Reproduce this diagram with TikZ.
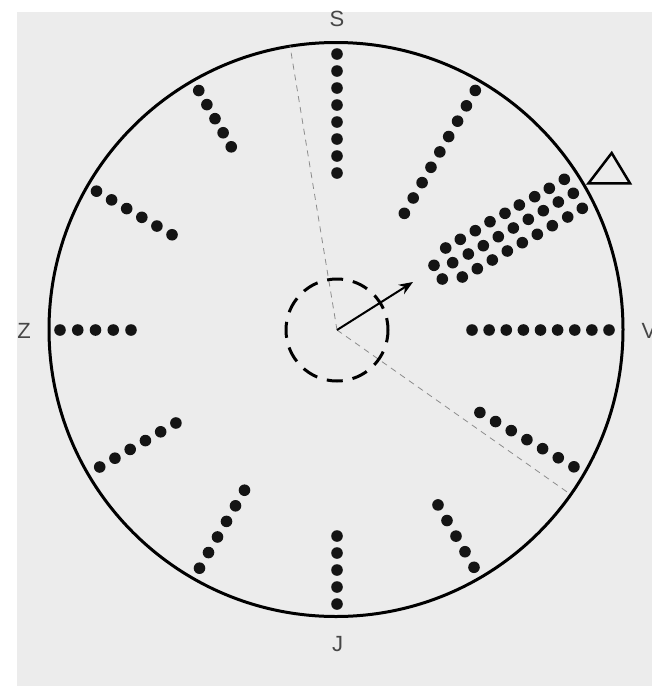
\documentclass[tikz,border=0pt]{standalone}
\usepackage{fontspec}
\setmainfont{Liberation Sans}
\usetikzlibrary{arrows.meta}
\definecolor{bg}{RGB}{236,236,236}
\definecolor{lbl}{RGB}{70,70,70}
\definecolor{dotc}{RGB}{20,20,20}
\begin{document}
\begin{tikzpicture}[x=1pt,y=-1pt,
  dot/.style={fill=dotc},
  lab/.style={font=\fontsize{22}{22}\selectfont, text=lbl, inner sep=0pt},
  thindash/.style={draw=black!45, line width=0.8pt, dash pattern=on 6pt off 5pt},
]
\useasboundingbox (0,0) rectangle (652,686);
\fill[white] (0,0) rectangle (652,686);
\fill[bg] (17,12) rectangle (652,686);
\coordinate (O) at (337,330);
\coordinate (C) at (336,329.5);
\coordinate (T1) at (290,46);
\coordinate (T2) at (570,494);
\coordinate (AT) at (413,282);
% outer circle
\draw[line width=3pt] (C) circle[radius=287pt];
% thin dashed radii
\draw[thindash] (O) -- (T1);
\draw[thindash] (O) -- (T2);
% dashed inner circle
\draw[line width=3pt, dash pattern=on 16pt off 10pt, dash phase=4pt] (O) circle[radius=51pt];
% arrow
\draw[line width=2pt, -{Stealth[length=14pt,width=11pt]}] (O) -- (AT);
% radial rows of dots
\foreach \a/\ro/\ri/\n in {90/276/157/8, 60/276.6/134.7/9, 0/272/135/9, -30/273.6/165/7, -60/274/202/5, -90/274/206/5, -120/275/185/6, -150/274/186/6, 180/277/206/5, 150/277.7/190.5/6, 120/276.5/211.5/5} {
  \foreach \k in {1,...,\n} {
    \pgfmathsetmacro\r{\ro-(\k-1)*(\ro-\ri)/(\n-1)}
    \fill[dot] ({337+\r*cos(\a)},{330-\r*sin(\a)}) circle[radius=5.8pt];
  }
}
% block of three rows
\foreach \p in {(564.3,179.3),(549.3,188.3),(534.7,196.7),(519.3,205),(505,213.3),(490,221.7),(475.3,230.7),(460.3,239.3),(445.7,248),
  (573.3,193.3),(558.3,202),(543.3,210.7),(528.3,219.3),(513.3,228),(498.3,236.7),(483.3,245.7),(468.3,254),(452.7,262.7),(434,265.3),
  (582.3,208.3),(567.7,217),(552.3,225.7),(537.3,234.3),(522.3,242.7),(507.3,251),(492.3,260),(477.3,268.7),(462.3,277),(442.3,279)} {
  \fill[dot] \p circle[radius=5.8pt];
}
% triangle marker
\draw[line width=2.5pt, fill=bg, line join=miter] (611.7,153) -- (588.5,183.3) -- (630,183.3) -- cycle;
% labels
\node[lab] (S) at (337,18.5) {S};
\node[lab] (J) at (337.5,644) {J};
\node[lab] (Z) at (24,331) {Z};
\node[lab, anchor=west] (V) at (641.5,331) {V};
\end{tikzpicture}
\end{document}
